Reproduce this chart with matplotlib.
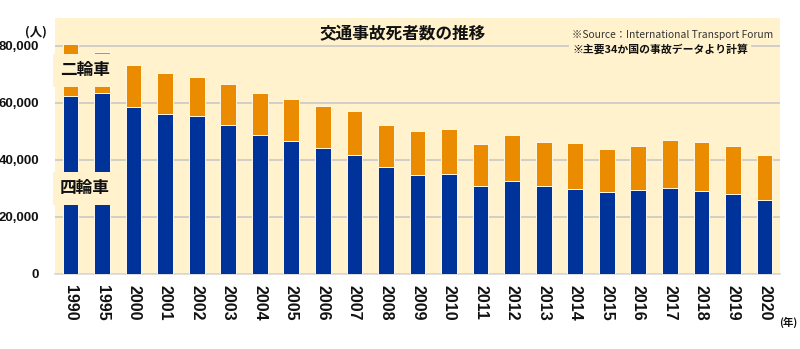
import matplotlib
matplotlib.use("Agg")
import matplotlib.pyplot as plt
import numpy as np

# Road traffic fatalities (34 major countries), split by vehicle type
years = ["1990", "1995", "2000", "2001", "2002", "2003", "2004", "2005", "2006",
         "2007", "2008", "2009", "2010", "2011", "2012", "2013", "2014", "2015",
         "2016", "2017", "2018", "2019", "2020"]
four_wheel = [62600, 63400, 58700, 56100, 55300, 52200, 48900, 46700, 44100,
              41800, 37400, 34600, 35100, 30800, 32600, 30800, 29800, 28800,
              29400, 30100, 29000, 28100, 26100]
totals = [80600, 78000, 73300, 70600, 69200, 66500, 63400, 61400, 58900,
          57100, 52300, 50300, 51000, 45500, 48800, 46200, 45800, 44000,
          45000, 47100, 46200, 45000, 41600]
two_wheel = [t - f for t, f in zip(totals, four_wheel)]
yticks = [0, 20000, 40000, 60000, 80000]

JP = ["Noto Sans CJK JP", "DejaVu Sans"]
NUM = ["Liberation Sans", "DejaVu Sans"]
PANEL = "#FFF2CC"
BLUE = "#003399"
ORANGE = "#EB8B00"
GRID = "#C9C9C9"

W, H = 800, 349
fig = plt.figure(figsize=(W / 100, H / 100), dpi=100, facecolor="white")
ax = fig.add_axes([55 / W, 1 - 274 / H, 725 / W, 256 / H])
ax.set_facecolor(PANEL)

x = np.arange(len(years))
ax.bar(x, four_wheel, width=0.5, color=BLUE, edgecolor="#FFF8E6", linewidth=0.7, zorder=3)
ax.bar(x, two_wheel, width=0.5, bottom=four_wheel, color=ORANGE,
       edgecolor="#FFF8E6", linewidth=0.7, zorder=3)

ax.set_xlim(-0.49, len(years) - 0.51)
ax.set_ylim(0, 89800)
ax.set_yticks(yticks)
ax.set_yticklabels([f"{v:,}" for v in yticks], family=NUM, fontweight="bold",
                   fontsize=9.5, color="#111111")
ax.yaxis.grid(True, color=GRID, linewidth=1.2, zorder=1)
ax.set_axisbelow(True)
ax.tick_params(axis="y", length=0, pad=11.5)
ax.tick_params(axis="x", length=0, pad=8)
ax.set_xticks(x)
ax.set_xticklabels(years, rotation=-90, family=NUM,
                   fontweight="bold", fontsize=11.5, color="#111111", va="top")
for s in ["top", "left", "right"]:
    ax.spines[s].set_visible(False)
ax.spines["bottom"].set_color("#D8D8D8")
ax.spines["bottom"].set_linewidth(1.2)

# Titles and annotations in figure pixel coordinates
def fx(px):
    return px / W

def fy(py):
    return 1 - py / H

fig.text(fx(403), fy(33), "交通事故死者数の推移", family=JP, fontweight="bold",
         fontsize=12, ha="center", va="center", color="#111111")
fig.text(fx(572), fy(35), "※Source：International Transport Forum", family=JP,
         fontsize=7.4, ha="left", va="center", color="#333333")
fig.text(fx(572), fy(49), "※主要34か国の事故データより計算", family=JP,
         fontweight="bold", fontsize=7.8, ha="left", va="center", color="#111111",
         bbox=dict(facecolor=PANEL, edgecolor="none", pad=2.5))

box = dict(facecolor=PANEL, edgecolor="none", boxstyle="square,pad=0.45")
fig.text(fx(60), fy(70), "二輪車", family=JP, fontweight="bold", fontsize=12,
         ha="left", va="center", color="#111111", bbox=box)
fig.text(fx(60), fy(188), "四輪車", family=JP, fontweight="bold", fontsize=12,
         ha="left", va="center", color="#111111", bbox=box)

fig.text(fx(36), fy(32), "(人)", family=JP, fontsize=9, fontweight="bold",
         ha="center", va="center", color="#111111")
fig.text(fx(788), fy(322), "(年)", family=JP, fontsize=7.5, fontweight="bold",
         ha="center", va="center", color="#111111")

fig.savefig("out.png", dpi=100, facecolor="white")
